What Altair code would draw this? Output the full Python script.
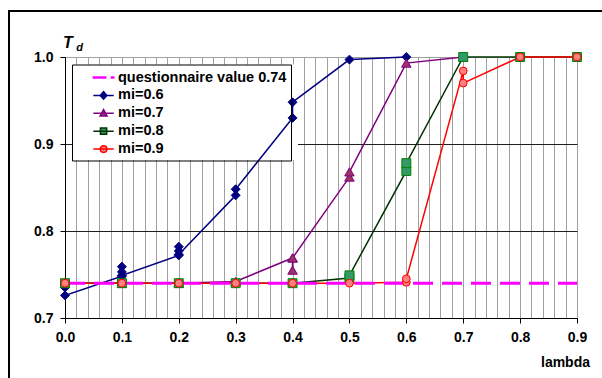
import altair as alt
import pandas as pd

# ---------------- data ----------------
series_names = ["mi=0.6", "mi=0.7", "mi=0.8", "mi=0.9"]

mi06_lambda = [0.0, 0.0, 0.0, 0.1, 0.1, 0.1, 0.1, 0.2, 0.2, 0.2, 0.2, 0.3, 0.3, 0.4, 0.4, 0.5, 0.6]
mi06_td = [0.740, 0.735, 0.726, 0.748, 0.759, 0.753, 0.749, 0.772, 0.782, 0.777, 0.773, 0.841, 0.848, 0.930, 0.948, 0.997, 1.000]

mi07_lambda = [0.0, 0.1, 0.2, 0.3, 0.4, 0.4, 0.4, 0.5, 0.5, 0.6, 0.7]
mi07_td = [0.740, 0.740, 0.740, 0.742, 0.769, 0.755, 0.769, 0.862, 0.868, 0.993, 1.000]

mi08_lambda = [0.0, 0.1, 0.2, 0.3, 0.4, 0.5, 0.5, 0.6, 0.6, 0.7, 0.8, 0.9]
mi08_td = [0.740, 0.740, 0.740, 0.740, 0.740, 0.746, 0.749, 0.869, 0.878, 1.000, 1.000, 1.000]

mi09_lambda = [0.0, 0.1, 0.2, 0.3, 0.4, 0.5, 0.6, 0.6, 0.7, 0.7, 0.8, 0.9]
mi09_td = [0.740, 0.740, 0.740, 0.740, 0.740, 0.740, 0.741, 0.745, 0.984, 0.970, 1.000, 1.000]

q_label = "questionnaire value 0.74"
q_lambda = [0.0, 0.9]
q_td = [0.74, 0.74]

x_label_values = [0.0, 0.1, 0.2, 0.3, 0.4, 0.5, 0.6, 0.7, 0.8, 0.9]
x_grid_values = [round(i * 0.02, 2) for i in range(46)]
y_tick_values = [0.7, 0.8, 0.9, 1.0]

# ---------------- styles ----------------
legend_names = [q_label] + series_names
line_colors = ["#FF00FF", "#000080", "#800080", "#003300", "#FF0000"]
marker_fills = ["#FF00FF", "#000080", "#993366", "#339966", "#FF8080"]
marker_strokes = ["#000080", "#800080", "#008000", "#FF0000"]
marker_shapes = ["diamond", "triangle-up", "square", "circle"]
marker_sizes = [80, 90, 80, 60]

legend_paths = [
    "M1.045,-0.07H2.59V0.07H1.045ZM3.3,-0.07H3.59V0.07H3.3Z",
    "M1.045,0H3.59M1.9,0L2.32,-0.46L2.74,0L2.32,0.46Z",
    "M1.045,0H3.59M2.32,-0.47L2.76,0.35L1.88,0.35Z",
    "M1.045,0H3.59M1.93,-0.39H2.71V0.39H1.93Z",
    "M1.045,0H3.59M1.9,0A0.42,0.42,0,1,0,2.74,0A0.42,0.42,0,1,0,1.9,0Z",
]

rows = []
for name, lam, td in zip(series_names,
                         [mi06_lambda, mi07_lambda, mi08_lambda, mi09_lambda],
                         [mi06_td, mi07_td, mi08_td, mi09_td]):
    for i, (a, b) in enumerate(zip(lam, td)):
        rows.append({"series": name, "lambda": a, "td": b, "idx": i})
df = pd.DataFrame(rows)
qdf = pd.DataFrame({"lambda": q_lambda, "td": q_td})
legend_df = pd.DataFrame({"series": legend_names})
one_row = pd.DataFrame({"k": [0]})

FONT = "Liberation Sans"
major = "abs(datum.value*10 - round(datum.value*10)) < 0.0001"

x_scale = alt.Scale(domain=[0, 0.9], nice=False, zero=False)
y_scale = alt.Scale(domain=[0.7, 1.0], nice=False, zero=False)

x_axis = alt.Axis(
    values=x_grid_values,
    labelExpr=f"({major}) ? format(datum.value, '.1f') : ''",
    tickOpacity={"condition": {"test": major, "value": 1}, "value": 0},
    grid=True, gridColor="#a0a0a0", gridWidth=1,
    domainColor="black", domainWidth=1, tickColor="black", tickSize=5,
    labelPadding=7, labelFont=FONT, labelFontSize=14, labelFontWeight="bold",
    labelColor="black", labelFlush=False, labelOverlap=False,
    title="lambda", titleX=500, titleY=44, titleAlign="center",
    titleBaseline="middle", titleFont=FONT, titleFontSize=14,
    titleFontWeight="bold", titleColor="black",
)
y_axis = alt.Axis(
    values=y_tick_values, format=".1f",
    grid=True,
    gridColor={"condition": {"test": "datum.value > 0.999", "value": "#a0a0a0"}, "value": "#202020"},
    gridWidth=1,
    domainColor="black", domainWidth=1, tickColor="black", tickSize=5,
    labelPadding=7, labelFont=FONT, labelFontSize=14, labelFontWeight="bold",
    labelColor="black", labelFlush=False, labelOverlap=False,
    title="T", titleAngle=0, titleX=2.5, titleY=-14.5, titleAlign="center",
    titleBaseline="middle", titleFont=FONT, titleFontSize=16,
    titleFontWeight="bold", titleFontStyle="italic", titleColor="black",
)


def xenc():
    return alt.X("lambda:Q", scale=x_scale, axis=x_axis)


def yenc():
    return alt.Y("td:Q", scale=y_scale, axis=y_axis)


def leg():
    return alt.Legend(title=None, labelExpr="datum.label + '   '")


# white backing of the legend box, drawn beneath the data lines
legend_back = alt.Chart(one_row).mark_rect(fill="white", stroke=None).encode(
    x=alt.value(7), x2=alt.value(233), y=alt.value(7.5), y2=alt.value(103)
)

line_layers = []
point_layers = []
for k, (name, shp, sz, fc, sc) in enumerate(zip(series_names, marker_shapes, marker_sizes,
                                                marker_fills[1:], marker_strokes)):
    line_layers.append(
        alt.Chart(df).transform_filter(alt.datum.series == name).mark_line(
            strokeWidth=1.5, color=line_colors[k + 1]
        ).encode(x=xenc(), y=yenc(), order=alt.Order("idx:Q"))
    )
    point_layers.append(
        alt.Chart(df).transform_filter(alt.datum.series == name).mark_point(
            shape=shp, size=sz, filled=True, fill=fc, stroke=sc,
            strokeWidth=1, opacity=1,
        ).encode(x=xenc(), y=yenc())
    )

qline = alt.Chart(qdf).mark_line(strokeWidth=3, strokeDash=[20, 9], color="#FF00FF").encode(
    x=xenc(), y=yenc()
)

legend_layer = alt.Chart(legend_df).transform_filter("false").mark_point(
    filled=True, opacity=1
).encode(
    stroke=alt.Stroke("series:N", scale=alt.Scale(domain=legend_names, range=line_colors),
                      legend=leg()),
    fill=alt.Fill("series:N", scale=alt.Scale(domain=legend_names, range=marker_fills),
                  legend=leg()),
    shape=alt.Shape("series:N", scale=alt.Scale(domain=legend_names, range=legend_paths),
                    legend=leg()),
)

border = alt.Chart(one_row).mark_rect(filled=False, stroke="black", strokeWidth=2).encode(
    x=alt.value(-56), x2=alt.value(700), y=alt.value(-46), y2=alt.value(500)
)

sub_d = alt.Chart(one_row).mark_text(
    text="d", font=FONT, fontSize=11, fontWeight="bold", fontStyle="italic",
    color="black", align="center", baseline="middle"
).encode(x=alt.value(14.5), y=alt.value(-9))

chart = alt.layer(
    legend_back, *line_layers, qline, *point_layers, legend_layer, border, sub_d
).properties(
    width=512, height=261,
    autosize=alt.AutoSizeParams(type="none"),
    padding={"left": 65, "top": 57, "right": 25, "bottom": 60},
    background="white",
).configure_view(
    stroke=None
).configure_legend(
    orient="none", legendX=7, legendY=7.5,
    strokeColor="black", strokeWidth=1,
    padding=4, cornerRadius=0,
    labelFont=FONT, labelFontSize=14.5, labelFontWeight="bold", labelColor="black",
    symbolSize=256, symbolStrokeWidth=1.5, symbolOpacity=1,
    labelOffset=24, rowPadding=1.9, labelLimit=400,
)

chart.save("out.html", embed_options={"renderer": "svg", "actions": False})
